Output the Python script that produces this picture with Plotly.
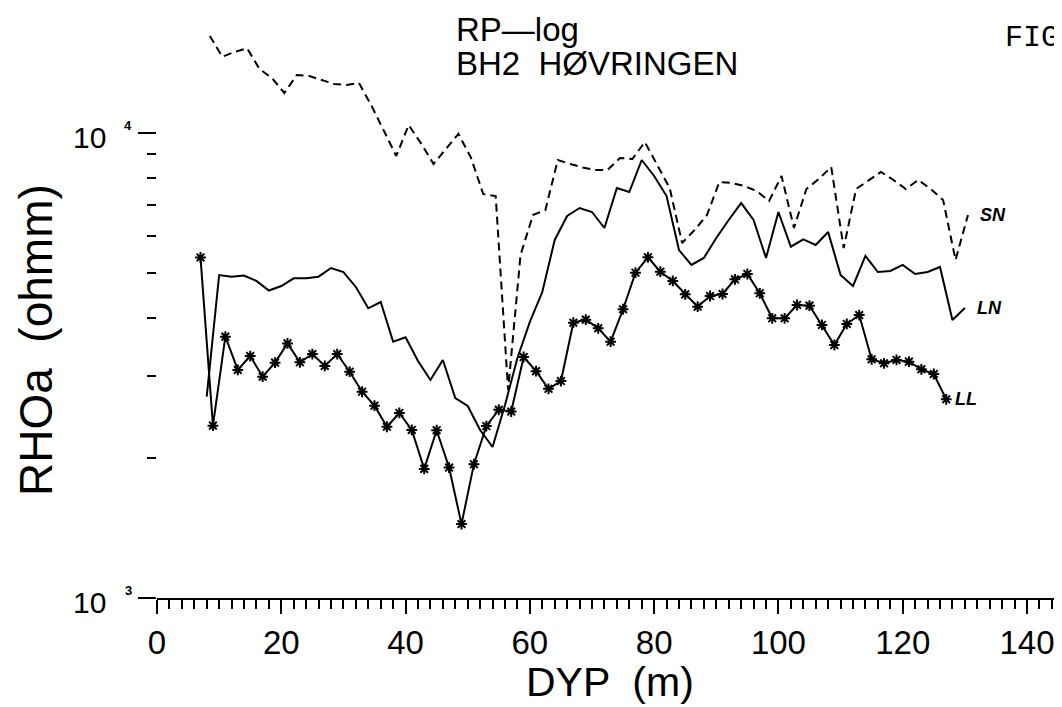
import math
import plotly.graph_objects as go

# ---------------- data ----------------
depth_ll = [7, 9, 11, 13, 15, 17, 19, 21, 23, 25, 27, 29, 31, 33, 35, 37, 39, 41, 43, 45,
            47, 49, 51, 53, 55, 57, 59, 61, 63, 65, 67, 69, 71, 73, 75, 77, 79, 81, 83, 85,
            87, 89, 91, 93, 95, 97, 99, 101, 103, 105, 107, 109, 111, 113, 115, 117, 119,
            121, 123, 125, 127]
rho_ll = [5400, 2348, 3648, 3093, 3314, 2992, 3207, 3528, 3213, 3347, 3155, 3347, 3067,
          2777, 2592, 2335, 2500, 2298, 1895, 2295, 1908, 1442, 1940, 2343, 2540, 2518,
          3298, 3075, 2818, 2928, 3909, 3968, 3802, 3558, 4178, 5007, 5403, 5032, 4806,
          4498, 4232, 4461, 4506, 4845, 4975, 4521, 3995, 3995, 4267, 4253, 3866, 3500,
          3885, 4060, 3261, 3197, 3250, 3223, 3103, 3032, 2675]

depth_ln = [8, 10, 12, 14, 16, 18, 20, 22, 24, 26, 28, 30, 32, 34, 36, 38, 40, 42, 44, 46,
            48, 50, 52, 54, 56, 58, 60, 62, 64, 66, 68, 70, 72, 74, 76, 78, 80, 82, 84, 86,
            88, 90, 92, 94, 96, 98, 100, 102, 104, 106, 108, 110, 112, 114, 116, 118, 120,
            122, 124, 126, 128, 130]
rho_ln = [2710, 4950, 4909, 4937, 4806, 4584, 4688, 4870, 4870, 4909, 5125, 5024, 4665,
          4198, 4331, 3557, 3636, 3234, 2943, 3250, 2692, 2588, 2298, 2112, 2600, 3282,
          3923, 4550, 5888, 6630, 6898, 6763, 6247, 7615, 7466, 8749, 8083, 7318, 5602,
          5203, 5386, 5946, 6500, 7069, 6500, 5386, 6763, 5694, 5908, 5743, 6125, 4950,
          4688, 5440, 5024, 5049, 5203, 4975, 5024, 5151, 3962, 4204]

depth_sn = [8.5, 10.5, 12.5, 14.5, 16.5, 18.5, 20.5, 22.5, 24.5, 26.5, 28.5, 30.5, 32.5,
            34.5, 36.5, 38.5, 40.5, 42.5, 44.5, 46.5, 48.5, 50.5, 52.5, 54.5, 56.5, 58.5,
            60.5, 62.5, 64.5, 66.5, 68.5, 70.5, 72.5, 74.5, 76.5, 78.5, 80.5, 82.5, 84.5,
            86.5, 88.5, 90.5, 92.5, 94.5, 96.5, 98.5, 100.5, 102.5, 104.5, 106.5, 108.5,
            110.5, 112.5, 114.5, 116.5, 118.5, 120.5, 122.5, 124.5, 126.5, 128.5, 130.5]
rho_sn = [16170, 14590, 14940, 15210, 13730, 13130, 12190, 13330, 13260, 13000, 12750,
          12690, 12810, 11460, 10100, 8925, 10400, 9493, 8578, 9243, 9960, 8863, 7392,
          7318, 2800, 5466, 6663, 6830, 8749, 8578, 8430, 8326, 8326, 8836, 8793, 9564,
          8535, 7615, 5800, 6185, 6663, 7846, 7808, 7691, 7503, 7140, 8083, 6247, 7579,
          7964, 8451, 5657, 7579, 7904, 8245, 7925, 7579, 7925, 7579, 7175, 5333, 6663]

x_major_ticks = [0, 20, 40, 60, 80, 100, 120, 140]
y_major_ticks = [1000, 10000]
y_minor_ticks = [2000, 3000, 4000, 5000, 6000, 7000, 8000, 9000]

title_lines = ["RP\u2014log", "BH2  H\u00d8VRINGEN"]
x_title = "DYP  (m)"
y_title = "RHOa  (ohmm)"
series_names = ["SN", "LN", "LL"]

# ---------------- geometry ----------------
BODY = 8                      # default page margin around the plot div
FIG_W, FIG_H = 1062 - BODY, 707 - BODY
M_L, M_B = 149, 109
PLOT_W, PLOT_H = FIG_W - M_L, FIG_H - M_B
PX_PER_DECADE = 465.0
PX_PER_M = 870.0 / 140.0
Y_TOP = 3 + PLOT_H / PX_PER_DECADE
X_MAX = PLOT_W / PX_PER_M


def pxx(x):
    """page x pixel -> paper x"""
    return (x - BODY - M_L) / PLOT_W


def pxy(y):
    """page y pixel -> paper y"""
    return (FIG_H - M_B - (y - BODY)) / PLOT_H


SANS = "Liberation Sans, Arial, sans-serif"
INK = "black"

fig = go.Figure()
fig.add_trace(go.Scatter(x=depth_sn, y=rho_sn, mode="lines", name=series_names[0],
                         line=dict(color=INK, width=2, dash="8px,5px")))
fig.add_trace(go.Scatter(x=depth_ln, y=rho_ln, mode="lines", name=series_names[1],
                         line=dict(color=INK, width=2)))
fig.add_trace(go.Scatter(x=depth_ll, y=rho_ll, mode="lines+markers", name=series_names[2],
                         line=dict(color=INK, width=2),
                         marker=dict(symbol="asterisk-open", size=9, color=INK,
                                     line=dict(color=INK, width=2))))

fig.update_layout(
    width=FIG_W, height=FIG_H, autosize=False,
    margin=dict(l=M_L, r=0, t=0, b=M_B, pad=0),
    paper_bgcolor="white", plot_bgcolor="white",
    showlegend=False,
    font=dict(family=SANS, color=INK),
)

fig.update_xaxes(
    range=[0, X_MAX], tickmode="array", tickvals=x_major_ticks,
    ticks="outside", ticklen=14, tickwidth=2, tickcolor=INK,
    tickfont=dict(family=SANS, size=33, color=INK),
    minor=dict(dtick=2, tick0=0, ticks="outside", ticklen=9, tickwidth=1.5, tickcolor=INK),
    showline=True, linecolor=INK, linewidth=2, showgrid=False, zeroline=False,
)
fig.update_yaxes(
    type="log", range=[3, Y_TOP], tickmode="array", tickvals=y_major_ticks,
    ticks="outside", ticklen=18, tickwidth=2, tickcolor=INK, showticklabels=False,
    minor=dict(tickmode="array", tickvals=y_minor_ticks, ticks="outside", ticklen=9,
               tickwidth=1.5, tickcolor=INK),
    showline=False, showgrid=False, zeroline=False,
)

# y axis line only between the two decades
fig.add_shape(type="line", xref="x", yref="y", x0=0, x1=0,
              y0=math.log10(y_major_ticks[0]), y1=math.log10(y_major_ticks[1]),
              line=dict(color=INK, width=2))

# y tick labels "10" with exponent
for v in y_major_ticks:
    lv = math.log10(v)
    fig.add_annotation(x=0, y=lv, xref="paper", yref="y", text="10", showarrow=False,
                       xanchor="right", yanchor="middle", xshift=-49, yshift=-4,
                       font=dict(family=SANS, size=30, color=INK))
    fig.add_annotation(x=0, y=lv, xref="paper", yref="y", text="<b>" + str(int(lv)) + "</b>",
                       showarrow=False, xanchor="center", yanchor="middle",
                       xshift=-29, yshift=8, font=dict(family=SANS, size=13, color=INK))

# axis titles
fig.add_annotation(x=pxx(610), y=pxy(682), xref="paper", yref="paper", text=x_title,
                   showarrow=False, xanchor="center", yanchor="middle",
                   font=dict(family=SANS, size=41, color=INK))
fig.add_annotation(x=pxx(36), y=pxy(340), xref="paper", yref="paper", text=y_title,
                   showarrow=False, textangle=-90, xanchor="center", yanchor="middle",
                   font=dict(family=SANS, size=46, color=INK))

# title lines
fig.add_annotation(x=pxx(454), y=pxy(30), xref="paper", yref="paper", showarrow=False,
                   text=title_lines[0], xanchor="left", yanchor="middle",
                   font=dict(family=SANS, size=33, color=INK))
fig.add_annotation(x=pxx(454), y=pxy(64), xref="paper", yref="paper", showarrow=False,
                   text=title_lines[1], xanchor="left", yanchor="middle",
                   font=dict(family=SANS, size=33, color=INK))
fig.add_annotation(x=pxx(1003), y=pxy(38), xref="paper", yref="paper", showarrow=False,
                   text="FIG", xanchor="left", yanchor="middle",
                   font=dict(family="Liberation Mono, Courier New, monospace", size=30, color=INK))

# series labels at the line ends
ends = [(depth_sn[-1], rho_sn[-1], 10), (depth_ln[-1], rho_ln[-1], 10),
        (depth_ll[-1], rho_ll[-1], 7)]
for name, (xe, ye, sh) in zip(series_names, ends):
    fig.add_annotation(x=xe, y=math.log10(ye), xref="x", yref="y",
                       text="<i><b>" + name + "</b></i>",
                       showarrow=False, xanchor="left", yanchor="middle", xshift=sh,
                       font=dict(family=SANS, size=18, color=INK))

fig.write_html("out.html")
